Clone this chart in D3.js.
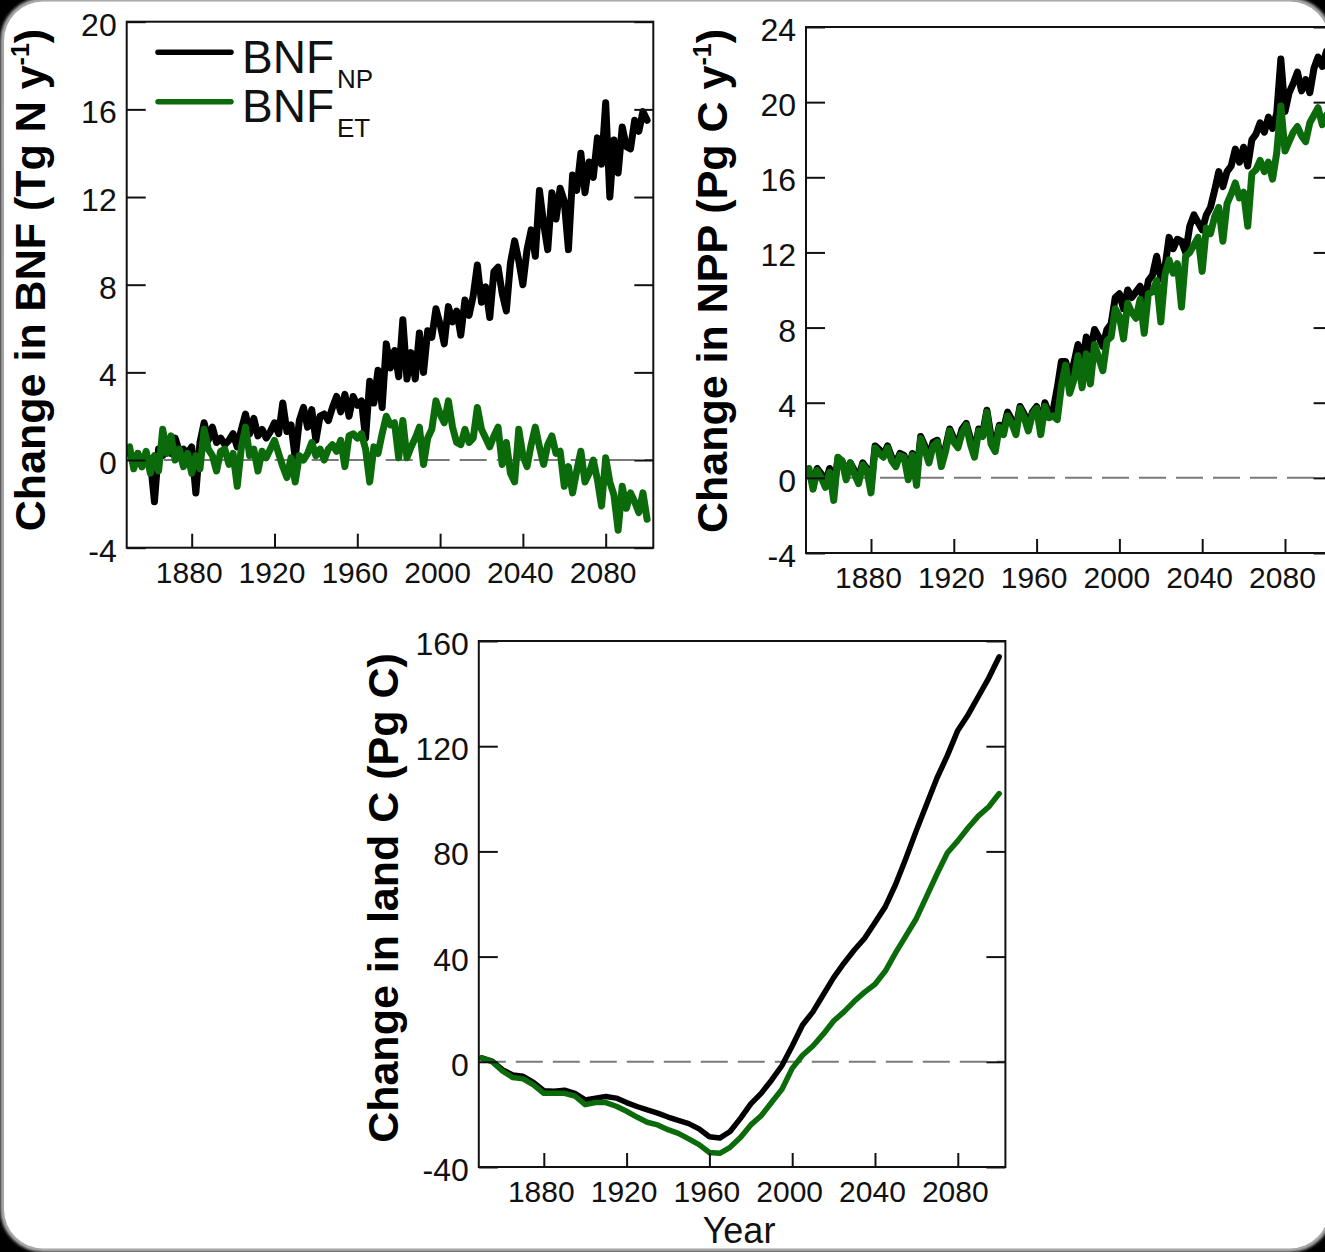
<!DOCTYPE html>
<html>
<head>
<meta charset="utf-8">
<script src="https://cdn.jsdelivr.net/npm/d3@7"></script>
<style>
  html, body { margin: 0; padding: 0; background: #000; }
  svg { display: block; }
</style>
</head>
<body>
<svg id="fig" width="1325" height="1252"></svg>
<script>
// ---- data -----------------------------------------------------------
// biennial model years for the BNF and NPP series
const yearsBiennial = [
  1850,1852,1854,1856,1858, 1860,1862,1864,1866,1868,
  1870,1872,1874,1876,1878, 1880,1882,1884,1886,1888,
  1890,1892,1894,1896,1898, 1900,1902,1904,1906,1908,
  1910,1912,1914,1916,1918, 1920,1922,1924,1926,1928,
  1930,1932,1934,1936,1938, 1940,1942,1944,1946,1948,
  1950,1952,1954,1956,1958, 1960,1962,1964,1966,1968,
  1970,1972,1974,1976,1978, 1980,1982,1984,1986,1988,
  1990,1992,1994,1996,1998, 2000,2002,2004,2006,2008,
  2010,2012,2014,2016,2018, 2020,2022,2024,2026,2028,
  2030,2032,2034,2036,2038, 2040,2042,2044,2046,2048,
  2050,2052,2054,2056,2058, 2060,2062,2064,2066,2068,
  2070,2072,2074,2076,2078, 2080,2082,2084,2086,2088,
  2090,2092,2094,2096,2098, 2100
];

// change in biological N fixation (Tg N / yr)
const bnfNP = [
  0.4,-0.2,0.3,-0.3,0.2,  0.0,-1.9,0.5,0.2,0.7,
  0.3,1.0,0.4,0.5,0.3,    0.6,-1.5,0.8,1.7,0.9,
  1.5,0.8,1.0,0.7,0.9,    1.2,0.6,1.4,2.1,1.2,
  1.9,1.1,1.4,1.0,1.3,    1.7,1.2,2.6,1.3,1.6,
  0.1,1.8,2.4,1.5,2.3,    0.9,2.0,2.1,1.8,2.4,
  2.9,2.2,3.0,2.0,2.9,    2.5,2.7,1.0,3.6,2.6,
  4.1,2.4,5.3,4.2,5.0,    3.8,6.4,3.7,4.9,3.7,
  5.8,4.0,5.9,5.6,6.9,    6.2,5.3,7.0,6.3,6.8,
  5.7,7.3,6.6,7.5,8.9,    7.2,7.9,6.5,8.6,8.8,
  7.6,6.8,9.0,10.0,9.1,   8.0,9.6,10.5,9.3,12.3,
  10.8,9.6,12.2,11.0,12.4, 11.8,9.6,13.0,12.3,14.0,
  12.2,13.6,12.9,14.7,13.5, 16.3,12.0,14.6,13.1,15.2,
  14.3,14.2,15.5,15.0,15.9, 15.5
];
const bnfET = [
  0.6,-0.4,0.3,-0.3,0.4,  -0.6,0.2,-0.5,1.4,0.3,
  1.1,0.0,0.5,-0.3,0.3,   -0.6,0.2,-0.4,1.4,0.5,
  0.2,-0.5,0.4,0.5,-0.2,  0.3,-1.2,0.6,1.5,0.2,
  0.5,-0.5,0.4,0.1,0.5,   0.9,0.3,-0.3,-0.8,0.1,
  -1.0,0.2,0.0,0.3,0.8,   0.2,0.5,0.0,0.5,0.7,
  0.4,0.9,-0.3,1.1,1.2,   1.0,1.2,0.5,-1.0,0.6,
  0.3,1.2,2.0,1.6,1.7,    0.1,1.8,0.1,0.6,1.0,
  1.5,-0.2,1.0,1.4,2.7,   2.1,1.7,2.7,1.5,0.8,
  0.7,1.4,0.8,1.0,2.4,    1.4,1.0,0.6,1.1,1.5,
  -0.2,0.8,-0.6,-1.0,1.4, 0.2,-0.3,0.7,1.5,0.6,
  -0.2,0.7,1.1,0.3,0.4,   -1.2,-0.3,-1.5,-0.5,0.4,
  -1.0,-0.6,0.0,-0.9,-2.1, 0.1,-1.0,-1.6,-3.2,-1.2,
  -2.2,-1.5,-1.9,-2.4,-1.5, -2.7
];

// change in net primary production (Pg C / yr)
const nppNP = [
  0.3,-0.3,0.5,0.2,-0.3,  0.5,-0.7,1.0,0.9,0.2,
  0.8,0.4,0.0,0.8,0.5,    -0.4,1.7,1.5,1.2,1.7,
  1.1,0.8,1.3,1.2,0.3,    1.3,0.1,2.2,1.7,1.1,
  1.9,2.0,0.9,1.6,2.6,    2.1,1.8,2.6,2.9,2.1,
  1.4,2.6,2.4,3.6,2.2,    1.8,2.8,2.6,3.5,3.1,
  2.6,3.8,3.4,2.8,3.5,    3.8,2.7,4.0,3.4,3.6,
  4.8,6.2,6.2,5.4,6.1,    7.1,6.0,7.5,6.8,7.9,
  7.5,7.0,7.9,8.2,9.6,    9.8,9.0,10.0,9.6,9.9,
  10.2,9.3,10.5,10.8,11.8, 10.6,11.2,12.8,12.2,12.7,
  12.6,12.0,13.4,14.0,13.6, 13.2,14.0,14.4,15.3,16.3,
  15.5,16.3,16.6,17.5,16.8, 17.6,16.6,18.0,18.3,18.9,
  18.4,19.2,18.6,19.4,22.3, 19.5,20.5,21.0,21.6,20.6,
  21.2,20.5,21.8,22.4,21.9, 22.7
];
const nppET = [
  0.5,-0.6,0.4,0.0,-0.5,  0.3,-1.2,1.1,0.9,-0.1,
  0.8,0.2,-0.3,0.7,0.4,   -0.8,1.6,1.3,1.1,1.6,
  0.9,0.6,1.2,1.1,-0.1,   1.2,-0.4,2.1,1.5,0.8,
  1.7,1.9,0.6,1.4,2.5,    1.9,1.6,2.4,2.8,1.8,
  1.1,2.5,2.2,3.5,1.8,    1.4,2.7,2.3,3.3,2.9,
  2.3,3.7,3.2,2.5,3.4,    3.7,2.3,3.8,3.2,3.3,
  3.1,4.9,6.0,4.5,5.2,    6.5,4.8,6.6,5.0,7.1,
  6.4,5.7,7.3,7.5,9.0,    8.6,7.4,9.3,8.8,8.5,
  9.5,7.7,9.8,9.9,10.5,   8.3,10.8,11.6,10.9,11.4,
  9.1,11.8,12.0,12.4,12.8, 11.0,13.3,13.0,13.9,14.4,
  12.6,14.6,15.1,15.7,14.9, 15.2,13.4,16.2,16.4,16.9,
  16.3,16.8,15.9,17.3,19.8, 17.4,17.9,18.4,18.7,18.2,
  17.9,18.9,19.3,19.7,18.8, 19.3
];

// five-yearly model years for cumulative land carbon
const yearsPentad = [
  1850,1855,1860,1865,1870,1875,1880,1885,1890,1895,
  1900,1905,1910,1915,1920,1925,1930,1935,1940,1945,
  1950,1955,1960,1965,1970,1975,1980,1985,1990,1995,
  2000,2005,2010,2015,2020,2025,2030,2035,2040,2045,
  2050,2055,2060,2065,2070,2075,2080,2085,2090,2095,
  2100
];
// change in land carbon storage (Pg C)
const landNP = [
  1.5,0.3,-3.0,-5.0,-5.5,-7.8,-11.0,-11.2,-10.8,-12.0,
  -14.5,-13.8,-13.2,-13.8,-15.5,-17.0,-18.3,-19.5,-21.0,-22.3,
  -23.5,-25.5,-28.5,-29.0,-26.5,-21.5,-16.0,-12.0,-7.0,-1.5,
  6.0,14.0,19.0,25.5,32.0,37.5,42.5,47.0,53.0,59.0,
  67.5,77.5,88.0,98.0,108.0,116.5,126.0,132.0,139.0,146.0,
  154.0
];
const landET = [
  1.5,0.0,-3.5,-6.0,-6.5,-8.8,-12.0,-12.0,-12.0,-13.0,
  -16.3,-15.5,-15.5,-16.9,-18.8,-21.0,-23.0,-24.0,-25.8,-27.2,
  -29.3,-31.5,-34.5,-34.8,-32.5,-28.8,-24.0,-20.5,-15.5,-10.5,
  -2.5,2.5,6.0,10.5,15.5,19.0,23.0,26.5,29.5,34.5,
  41.5,48.0,54.5,63.0,71.5,79.5,84.0,89.0,93.5,97.0,
  102.0
];

// axis ticks and labels
const yearTicks = [1880, 1920, 1960, 2000, 2040, 2080];
const bnfTicks  = [-4, 0, 4, 8, 12, 16, 20];
const nppTicks  = [-4, 0, 4, 8, 12, 16, 20, 24];
const landTicks = [-40, 0, 40, 80, 120, 160];
const legendBase = ["BNF", "BNF"];
const legendSub  = ["NP", "ET"];

// ---- drawing --------------------------------------------------------
const FONT = "'Liberation Sans', Arial, Helvetica, sans-serif";
const BLACK = "#000000";
const GREEN = "#0b6b0b";
const PW = 526.6, PH = 526;
const YEAR_DOMAIN = [1848.6, 2103];

const svg = d3.select("#fig");

// white rounded card on the dark page
const defs = svg.append("defs");
defs.append("filter").attr("id", "soft")
  .append("feGaussianBlur").attr("stdDeviation", 1.6);
svg.append("rect")
  .attr("x", 3).attr("y", 0.5).attr("width", 1327).attr("height", 1249)
  .attr("rx", 40).attr("fill", "none")
  .attr("stroke", "#b8b8b8").attr("stroke-width", 5)
  .attr("filter", "url(#soft)");
svg.append("rect")
  .attr("x", 4).attr("y", 1.5).attr("width", 1325).attr("height", 1247)
  .attr("rx", 39).attr("fill", "#ffffff");

function drawPanel(cfg) {
  const g = svg.append("g");
  const x = d3.scaleLinear().domain(YEAR_DOMAIN).range([cfg.left, cfg.left + PW]);
  const y = d3.scaleLinear().domain(cfg.yDomain).range([cfg.top + PH, cfg.top]);

  // zero reference line
  g.append("line")
    .attr("x1", cfg.left).attr("x2", cfg.left + PW)
    .attr("y1", y(0)).attr("y2", y(0))
    .attr("stroke", "#7a7a7a").attr("stroke-width", 2)
    .attr("stroke-dasharray", "27,10");

  // series
  const line = d3.line().x(d => x(d[0])).y(d => y(d[1]));
  cfg.series.forEach(s => {
    g.append("path")
      .datum(s.years.map((yr, i) => [yr, s.values[i]]))
      .attr("d", line)
      .attr("fill", "none")
      .attr("stroke", s.color)
      .attr("stroke-width", cfg.lineWidth)
      .attr("stroke-linejoin", "round")
      .attr("stroke-linecap", "round");
  });

  // axes with inward ticks on left, right and bottom
  const left = g.append("g").attr("transform", `translate(${cfg.left},0)`)
    .call(d3.axisLeft(y).tickValues(cfg.yTicks).tickSize(-19).tickSizeOuter(0)
      .tickPadding(10).tickFormat(d => String(d)));
  const right = g.append("g").attr("transform", `translate(${cfg.left + PW},0)`)
    .call(d3.axisRight(y).tickValues(cfg.yTicks).tickSize(-19).tickSizeOuter(0)
      .tickFormat(""));
  const bottom = g.append("g").attr("transform", `translate(0,${cfg.top + PH})`)
    .call(d3.axisBottom(x).tickValues(yearTicks).tickSize(-14).tickSizeOuter(0)
      .tickPadding(14).tickFormat(d => String(d)));

  [left, right, bottom].forEach(a => {
    a.select(".domain").remove();
    a.selectAll(".tick line").attr("stroke", "#111").attr("stroke-width", 2);
  });
  left.selectAll("text")
    .attr("font-family", FONT).attr("font-size", 32).attr("fill", "#111")
    .attr("dy", "0.42em");
  bottom.selectAll("text")
    .attr("font-family", FONT).attr("font-size", 30).attr("fill", "#111")
    .attr("dx", -3);

  // frame
  g.append("rect")
    .attr("x", cfg.left).attr("y", cfg.top).attr("width", PW).attr("height", PH)
    .attr("fill", "none").attr("stroke", "#111").attr("stroke-width", 2);

  // rotated y title
  const t = g.append("text")
    .attr("transform", `translate(${cfg.titleX},${cfg.titleY}) rotate(-90)`)
    .attr("text-anchor", "middle")
    .attr("font-family", FONT).attr("font-weight", "bold").attr("font-size", 43)
    .attr("fill", "#000");
  t.append("tspan").text(cfg.title);
  if (cfg.titleSup) {
    t.append("tspan").attr("font-size", 25).attr("dy", -16).text(cfg.titleSup);
    t.append("tspan").attr("dy", 16).text(cfg.titleEnd);
  }
  return { x, y, g };
}

// panel: nitrogen fixation
const pA = drawPanel({
  left: 126.7, top: 21.7, yDomain: [-4, 20], yTicks: bnfTicks, lineWidth: 7,
  series: [
    { years: yearsBiennial, values: bnfNP, color: BLACK },
    { years: yearsBiennial, values: bnfET, color: GREEN }
  ],
  title: "Change in BNF (Tg N y", titleSup: "-1", titleEnd: ")",
  titleX: 45, titleY: 280
});

// legend
[BLACK, GREEN].forEach((c, i) => {
  const ly = 52.3 + i * 49.4;
  pA.g.append("line")
    .attr("x1", 158).attr("x2", 231).attr("y1", ly).attr("y2", ly)
    .attr("stroke", c).attr("stroke-width", 5.5).attr("stroke-linecap", "round");
  const lt = pA.g.append("text")
    .attr("x", 242).attr("y", ly + 20.5)
    .attr("font-family", FONT).attr("font-size", 46).attr("fill", "#111");
  lt.append("tspan").text(legendBase[i]);
  lt.append("tspan").attr("font-size", 26).attr("dy", 15).attr("dx", 3).text(legendSub[i]);
});

// panel: net primary production
drawPanel({
  left: 806, top: 27, yDomain: [-4, 24], yTicks: nppTicks, lineWidth: 7,
  series: [
    { years: yearsBiennial, values: nppNP, color: BLACK },
    { years: yearsBiennial, values: nppET, color: GREEN }
  ],
  title: "Change in NPP (Pg C y", titleSup: "-1", titleEnd: ")",
  titleX: 727, titleY: 281
});

// panel: land carbon
drawPanel({
  left: 478.8, top: 641, yDomain: [-40, 160], yTicks: landTicks, lineWidth: 5.5,
  series: [
    { years: yearsPentad, values: landNP, color: BLACK },
    { years: yearsPentad, values: landET, color: GREEN }
  ],
  title: "Change in land C (Pg C)",
  titleX: 398, titleY: 898
});

svg.append("text")
  .attr("x", 739).attr("y", 1243)
  .attr("text-anchor", "middle")
  .attr("font-family", FONT).attr("font-size", 36).attr("fill", "#111")
  .text("Year");
</script>
</body>
</html>
